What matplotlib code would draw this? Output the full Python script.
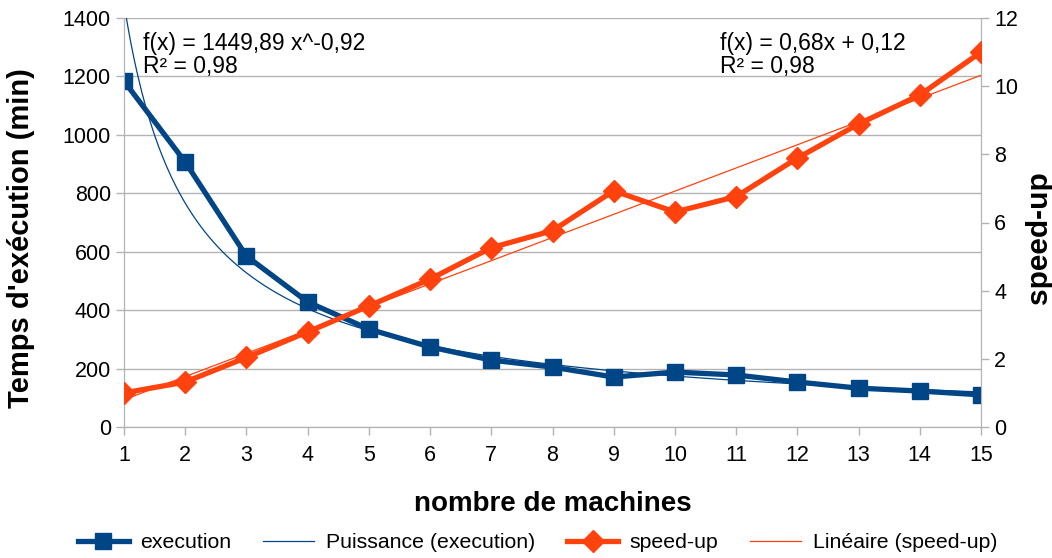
import numpy as np
import matplotlib.pyplot as plt

plt.rcParams['font.family'] = ['Liberation Sans', 'DejaVu Sans']

# -------------------------
# Data
# -------------------------
machines = [1, 2, 3, 4, 5, 6, 7, 8, 9, 10, 11, 12, 13, 14, 15]
execution = [1184, 907, 585, 428, 335, 274, 229, 205, 171, 188, 178, 154, 133, 123, 110]
speedup = [1.0, 1.32, 2.04, 2.79, 3.55, 4.34, 5.26, 5.76, 6.93, 6.31, 6.76, 7.89, 8.89, 9.74, 11.0]

# trendline coefficients (as reported by the spreadsheet)
pow_a, pow_b = 1449.89, -0.92
lin_a, lin_b = 0.68, 0.12

blue = "#004586"
orange = "#ff420e"
grid_grey = "#b3b3b3"

# -------------------------
# Plot
# -------------------------
fig = plt.figure(figsize=(10.52, 5.58), dpi=100)
ax = fig.add_axes([124 / 1052, 1 - 427 / 558, (981 - 124) / 1052, (427 - 18) / 558])
ax2 = ax.twinx()

xs = np.linspace(1, 15, 400)

l1, = ax.plot(machines, execution, color=blue, lw=3.8, marker="s", ms=12,
              label="execution", zorder=3)
l2, = ax.plot(xs, pow_a * xs ** pow_b, color=blue, lw=0.9,
              label="Puissance (execution)", zorder=2)
l3, = ax2.plot(machines, speedup, color=orange, lw=3.8, marker="D", ms=11,
               label="speed-up", zorder=3)
l4, = ax2.plot(xs, lin_a * xs + lin_b, color=orange, lw=0.9,
               label="Linéaire (speed-up)", zorder=2)

ax.set_xlim(1, 15)
ax.set_ylim(0, 1400)
ax2.set_ylim(0, 12)
ax.set_xticks(machines)
ax.set_yticks(range(0, 1401, 200))
ax2.set_yticks(range(0, 13, 2))

ax.yaxis.grid(True, color=grid_grey, lw=1)
ax.set_axisbelow(True)

for a in (ax, ax2):
    a.spines["top"].set_visible(False)
    for s in ("left", "right", "bottom"):
        a.spines[s].set_color(grid_grey)
    a.tick_params(colors=grid_grey, labelcolor="black", labelsize=15.5,
                  length=6, width=1)
ax.tick_params(axis="x", pad=7)

ax.set_xlabel("nombre de machines", fontsize=20, fontweight="bold", labelpad=18)
ax.set_ylabel("Temps d'exécution (min)", fontsize=21, fontweight="bold")
ax2.set_ylabel("speed-up", fontsize=21.5, fontweight="bold", rotation=90)
ax.yaxis.set_label_coords(-0.104, 0.462)
ax2.yaxis.set_label_coords(1.051, 0.462)

ax.text(0.022, 0.965, "f(x) = 1449,89 x^-0,92\nR² = 0,98", transform=ax.transAxes,
        fontsize=16.5, va="top", ha="left", linespacing=1.0)
ax.text(0.696, 0.965, "f(x) = 0,68x + 0,12\nR² = 0,98", transform=ax.transAxes,
        fontsize=16.5, va="top", ha="left", linespacing=1.0)

fig.legend(handles=[l1, l2, l3, l4], loc="center", bbox_to_anchor=(0.511, 0.027),
           ncol=4, frameon=False, fontsize=15.3, handlelength=2.4,
           columnspacing=1.5, handletextpad=0.55)

fig.savefig("out.png", dpi=100)
